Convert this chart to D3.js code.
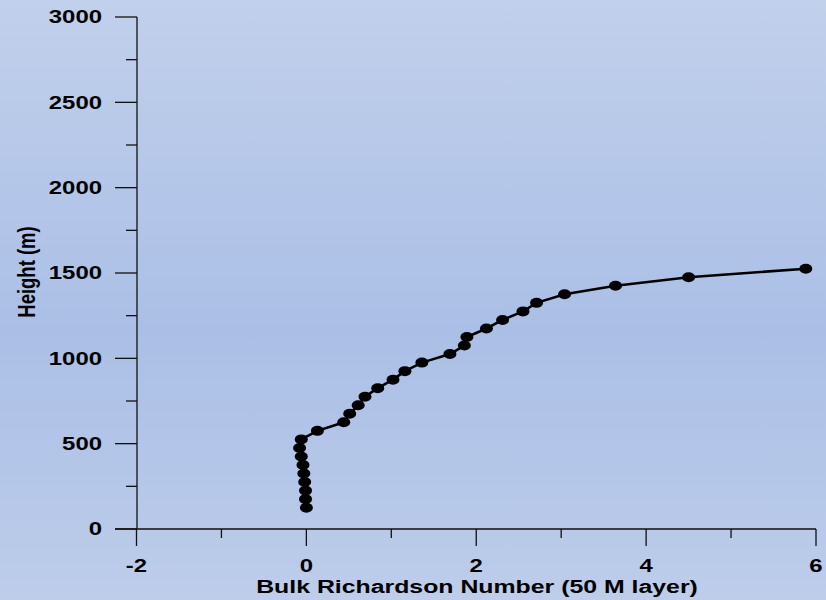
<!DOCTYPE html>
<html>
<head>
<meta charset="utf-8">
<script src="https://cdn.jsdelivr.net/npm/d3@7"></script>
<style>
  html, body { margin: 0; padding: 0; }
  svg { display: block; }
  text { font-family: "Liberation Sans", Arial, sans-serif; font-weight: bold; fill: #000; }
</style>
</head>
<body>
<svg id="chart" width="826" height="600"></svg>
<script>
// Bulk Richardson number profile, one value per 50 m layer midpoint
const heights = [125, 175, 225, 275, 325, 375, 425, 475, 525, 575, 625, 675, 725, 775,
                 825, 875, 925, 975, 1025, 1075, 1125, 1175, 1225, 1275, 1325, 1375,
                 1425, 1475, 1525];
const richardson = [0.0, -0.01, -0.01, -0.02, -0.03, -0.04, -0.06, -0.08, -0.06, 0.13,
                    0.44, 0.51, 0.61, 0.69, 0.84, 1.02, 1.16, 1.36, 1.69, 1.86, 1.89,
                    2.12, 2.31, 2.55, 2.71, 3.04, 3.64, 4.50, 5.88];

const xMajorTicks = [-2, 0, 2, 4, 6];
const xMinorTicks = [-1, 1, 3, 5];
const yMajorTicks = [0, 500, 1000, 1500, 2000, 2500, 3000];
const yMinorTicks = [250, 750, 1250, 1750, 2250, 2750];

const xTitle = "Bulk Richardson Number (50 M layer)";
const yTitle = "Height (m)";

const svg = d3.select("#chart");
const W = 826, H = 600;
const textStretch = 1.33;

// background gradient
const defs = svg.append("defs");
const grad = defs.append("linearGradient")
  .attr("id", "bg").attr("x1", 0).attr("y1", 0).attr("x2", 0).attr("y2", 1);
grad.append("stop").attr("offset", "0%").attr("stop-color", "#c1d0eb");
grad.append("stop").attr("offset", "55%").attr("stop-color", "#abbfe6");
grad.append("stop").attr("offset", "100%").attr("stop-color", "#bdcdea");
svg.append("rect").attr("width", W).attr("height", H).attr("fill", "url(#bg)");

const x = d3.scaleLinear().domain([-2, 6]).range([136.5, 816]);
const y = d3.scaleLinear().domain([0, 3000]).range([529, 17]);

const axisColor = "#111";

// y axis
const yAxis = svg.append("g");
yAxis.append("line")
  .attr("x1", 137).attr("x2", 137).attr("y1", y(3000)).attr("y2", y(0))
  .attr("stroke", axisColor).attr("stroke-width", 1.3);
yAxis.selectAll(".ymaj").data(yMajorTicks).join("line")
  .attr("x1", 115).attr("x2", 137).attr("y1", d => y(d)).attr("y2", d => y(d))
  .attr("stroke", axisColor).attr("stroke-width", 1.3);
yAxis.selectAll(".ymin").data(yMinorTicks).join("line")
  .attr("x1", 126).attr("x2", 137).attr("y1", d => y(d)).attr("y2", d => y(d))
  .attr("stroke", axisColor).attr("stroke-width", 1.3);
yAxis.selectAll(".ylab").data(yMajorTicks).join("text")
  .attr("transform", d => `translate(102,${y(d)}) scale(${textStretch},1)`)
  .attr("text-anchor", "end").attr("dy", "0.36em")
  .attr("font-size", 18).text(d => d);

// x axis
const xAxis = svg.append("g");
xAxis.append("line")
  .attr("x1", 115).attr("x2", x(6)).attr("y1", 529).attr("y2", 529)
  .attr("stroke", axisColor).attr("stroke-width", 1.3);
xAxis.selectAll(".xmaj").data(xMajorTicks).join("line")
  .attr("x1", d => x(d)).attr("x2", d => x(d)).attr("y1", 529).attr("y2", 546)
  .attr("stroke", axisColor).attr("stroke-width", 1.3);
xAxis.selectAll(".xmin").data(xMinorTicks).join("line")
  .attr("x1", d => x(d)).attr("x2", d => x(d)).attr("y1", 529).attr("y2", 538)
  .attr("stroke", axisColor).attr("stroke-width", 1.3);
xAxis.selectAll(".xlab").data(xMajorTicks).join("text")
  .attr("transform", d => `translate(${x(d)},572) scale(${textStretch},1)`)
  .attr("text-anchor", "middle").attr("font-size", 18).text(d => d);

// axis titles
svg.append("text")
  .attr("transform", `translate(477,593) scale(1.38,1)`)
  .attr("text-anchor", "middle").attr("font-size", 18).text(xTitle);
svg.append("text")
  .attr("transform", `translate(35,272) scale(${textStretch},1) rotate(-90)`)
  .attr("text-anchor", "middle").attr("font-size", 18.5).text(yTitle);

// profile line and markers
const data = heights.map((h, i) => ({ h, ri: richardson[i] }));
svg.append("path").datum(data)
  .attr("fill", "none").attr("stroke", "#000").attr("stroke-width", 2.6)
  .attr("d", d3.line().x(d => x(d.ri)).y(d => y(d.h)));
svg.selectAll(".pt").data(data).join("ellipse")
  .attr("cx", d => x(d.ri)).attr("cy", d => y(d.h))
  .attr("rx", 6.5).attr("ry", 5).attr("fill", "#000");
</script>
</body>
</html>
